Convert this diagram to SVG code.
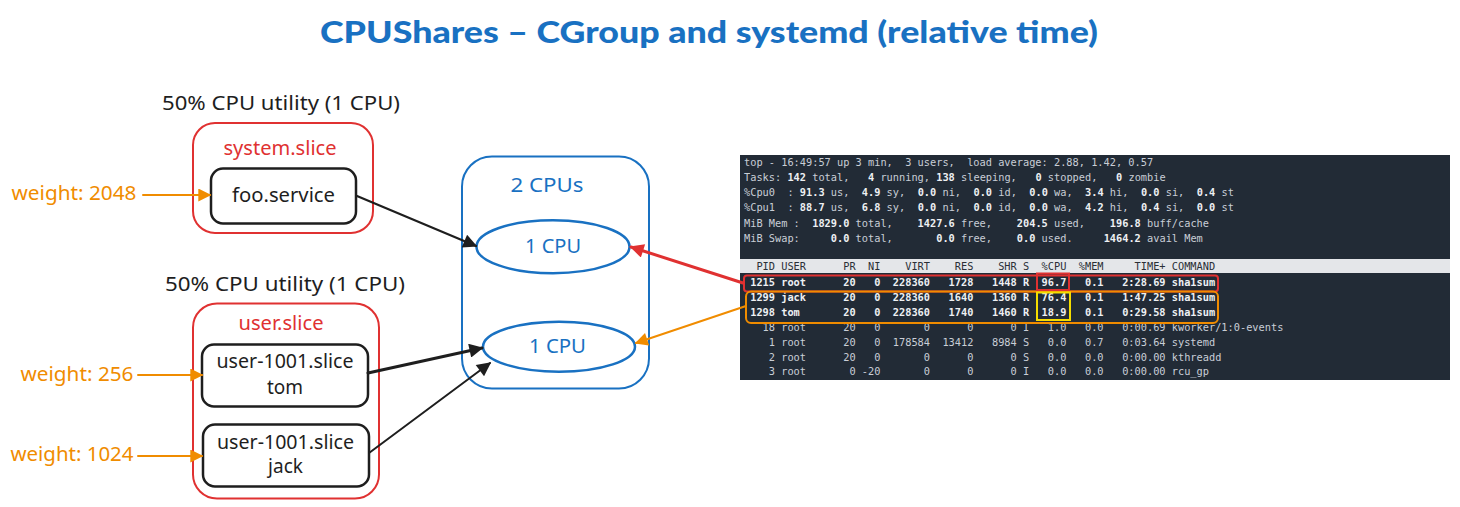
<svg xmlns="http://www.w3.org/2000/svg" width="1460" height="507" viewBox="0 0 1460 507">
<style>
.hand{font-family:"Noto Sans","Liberation Sans",sans-serif;font-size:19px;text-anchor:middle}
.blk{fill:#1e1e1e}
.red{fill:#e03131}
.org{fill:#f08c00}
.blu{fill:#1971c2}
.term text{font-family:"DejaVu Sans Mono","Liberation Mono",monospace;font-size:10.3px;fill:#c9ced6;white-space:pre}
.term .b{font-weight:bold;fill:#eef0f3}
.term .hdr{fill:#2a2f36}
.term .rowb{font-weight:bold;fill:#eef0f3}
.box{fill:none;stroke-width:2}
.conn{fill:none;stroke-linecap:round}
</style>
<defs>
<marker id="ahBk" viewBox="0 0 10 10" refX="9" refY="5" markerWidth="16" markerHeight="14" markerUnits="userSpaceOnUse" orient="auto"><path d="M0,0 L10,5 L0,10 z" fill="#1e1e1e"/></marker>
<marker id="ahR" viewBox="0 0 10 10" refX="9" refY="5" markerWidth="16" markerHeight="14" markerUnits="userSpaceOnUse" orient="auto"><path d="M0,0 L10,5 L0,10 z" fill="#e03131"/></marker>
<marker id="ahO" viewBox="0 0 10 10" refX="9" refY="5" markerWidth="15" markerHeight="13" markerUnits="userSpaceOnUse" orient="auto"><path d="M0,0 L10,5 L0,10 z" fill="#f08c00"/></marker>
</defs>

<text x="709" y="43" text-anchor="middle" textLength="778" lengthAdjust="spacingAndGlyphs" style="font-family:Lato,'Open Sans',sans-serif;font-weight:900;font-size:30px" class="blu">CPUShares – CGroup and systemd (relative time)</text>

<g id="label-system-util"><text class="hand blk" x="281" y="110" textLength="238" lengthAdjust="spacingAndGlyphs">50% CPU utility (1 CPU)</text></g>
<g id="system-slice">
<rect x="193" y="123" width="180" height="110" rx="22" class="box" stroke="#e03131"/>
<text class="hand red" x="280" y="154.5" textLength="113" lengthAdjust="spacingAndGlyphs">system.slice</text>
</g>
<g id="foo-service">
<rect x="211" y="168.5" width="145" height="55" rx="12" fill="none" stroke="#1e1e1e" stroke-width="2.5"/>
<text class="hand blk" x="283.5" y="202" textLength="103" lengthAdjust="spacingAndGlyphs">foo.service</text>
</g>
<g id="weight-2048"><text class="hand org" x="74" y="199.5" textLength="125" lengthAdjust="spacingAndGlyphs">weight: 2048</text></g>

<g id="label-user-util"><text class="hand blk" x="285" y="290.5" textLength="240" lengthAdjust="spacingAndGlyphs">50% CPU utility (1 CPU)</text></g>
<g id="user-slice">
<rect x="193" y="303.5" width="186" height="195" rx="24" class="box" stroke="#e03131"/>
<text class="hand red" x="281" y="329.5" textLength="85" lengthAdjust="spacingAndGlyphs">user.slice</text>
</g>
<g id="user-tom">
<rect x="202" y="344.5" width="166" height="62" rx="12" fill="none" stroke="#1e1e1e" stroke-width="2.5"/>
<text class="hand blk" x="285" y="367.5" textLength="137" lengthAdjust="spacingAndGlyphs">user-1001.slice</text>
<text class="hand blk" x="285" y="394">tom</text>
</g>
<g id="user-jack">
<rect x="203" y="424.5" width="166" height="62" rx="12" fill="none" stroke="#1e1e1e" stroke-width="2.5"/>
<text class="hand blk" x="285.5" y="448.5" textLength="137" lengthAdjust="spacingAndGlyphs">user-1001.slice</text>
<text class="hand blk" x="285.5" y="473">jack</text>
</g>
<g id="weight-256"><text class="hand org" x="77" y="381" textLength="113" lengthAdjust="spacingAndGlyphs">weight: 256</text></g>
<g id="weight-1024"><text class="hand org" x="72" y="460.5" textLength="123" lengthAdjust="spacingAndGlyphs">weight: 1024</text></g>

<g id="cpus">
<rect x="462" y="156.5" width="187" height="232" rx="30" class="box" stroke="#1971c2"/>
<text class="hand blu" x="547" y="192" textLength="73" lengthAdjust="spacingAndGlyphs">2 CPUs</text>
</g>
<g id="cpu1">
<ellipse cx="553" cy="246.7" rx="76.5" ry="26.5" fill="none" stroke="#1971c2" stroke-width="2.5"/>
<text class="hand blu" x="553" y="252.5" textLength="56" lengthAdjust="spacingAndGlyphs">1 CPU</text>
</g>
<g id="cpu2">
<ellipse cx="559" cy="346.7" rx="76" ry="25" fill="none" stroke="#1971c2" stroke-width="2.5"/>
<text class="hand blu" x="557.5" y="353" textLength="57" lengthAdjust="spacingAndGlyphs">1 CPU</text>
</g>

<g id="top-output" class="term">
<rect x="740" y="155" width="710" height="225" fill="#222b36"/>
<rect x="740" y="259" width="710" height="14" fill="#e4e6e9"/>
<text xml:space="preserve" x="744" y="165.5">top - 16:49:57 up 3 min,  3 users,  load average: 2.88, 1.42, 0.57</text>
<text xml:space="preserve" x="744" y="180.8">Tasks: <tspan class="b">142</tspan> total,   <tspan class="b">4</tspan> running, <tspan class="b">138</tspan> sleeping,   <tspan class="b">0</tspan> stopped,   <tspan class="b">0</tspan> zombie</text>
<text xml:space="preserve" x="744" y="196.1">%Cpu0  : <tspan class="b">91.3</tspan> us,  <tspan class="b">4.9</tspan> sy,  <tspan class="b">0.0</tspan> ni,  <tspan class="b">0.0</tspan> id,  <tspan class="b">0.0</tspan> wa,  <tspan class="b">3.4</tspan> hi,  <tspan class="b">0.0</tspan> si,  <tspan class="b">0.4</tspan> st</text>
<text xml:space="preserve" x="744" y="211.4">%Cpu1  : <tspan class="b">88.7</tspan> us,  <tspan class="b">6.8</tspan> sy,  <tspan class="b">0.0</tspan> ni,  <tspan class="b">0.0</tspan> id,  <tspan class="b">0.0</tspan> wa,  <tspan class="b">4.2</tspan> hi,  <tspan class="b">0.4</tspan> si,  <tspan class="b">0.0</tspan> st</text>
<text xml:space="preserve" x="744" y="226.7">MiB Mem :  <tspan class="b">1829.0</tspan> total,    <tspan class="b">1427.6</tspan> free,    <tspan class="b">204.5</tspan> used,    <tspan class="b">196.8</tspan> buff/cache</text>
<text xml:space="preserve" x="744" y="242">MiB Swap:     <tspan class="b">0.0</tspan> total,       <tspan class="b">0.0</tspan> free,    <tspan class="b">0.0</tspan> used.     <tspan class="b">1464.2</tspan> avail Mem</text>
<text xml:space="preserve" x="744" y="270.3" class="hdr">  PID USER      PR  NI    VIRT    RES    SHR S  %CPU  %MEM     TIME+ COMMAND</text>
<text xml:space="preserve" x="744" y="286" class="rowb"> 1215 root      20   0  228360   1728   1448 R  96.7   0.1   2:28.69 sha1sum</text>
<text xml:space="preserve" x="744" y="300.9" class="rowb"> 1299 jack      20   0  228360   1640   1360 R  76.4   0.1   1:47.25 sha1sum</text>
<text xml:space="preserve" x="744" y="315.8" class="rowb"> 1298 tom       20   0  228360   1740   1460 R  18.9   0.1   0:29.58 sha1sum</text>
<text xml:space="preserve" x="744" y="330.7">   18 root      20   0       0      0      0 I   1.0   0.0   0:00.69 kworker/1:0-events</text>
<text xml:space="preserve" x="744" y="345.6">    1 root      20   0  178584  13412   8984 S   0.0   0.7   0:03.64 systemd</text>
<text xml:space="preserve" x="744" y="360.5">    2 root      20   0       0      0      0 S   0.0   0.0   0:00.00 kthreadd</text>
<text xml:space="preserve" x="744" y="375.4">    3 root       0 -20       0      0      0 I   0.0   0.0   0:00.00 rcu_gp</text>
<rect x="744" y="275.5" width="474" height="16" rx="3" class="box" stroke="#e03131"/>
<rect x="746" y="291.5" width="472" height="31.5" rx="5" class="box" stroke="#f08c00"/>
<rect x="1037" y="273.5" width="32" height="16.5" class="box" stroke="#e03131"/>
<rect x="1037" y="292.5" width="33" height="27.5" class="box" stroke="#f5dd00"/>
</g>

<g id="connectors">
<line class="conn" x1="143" y1="195" x2="210" y2="195" stroke="#f08c00" stroke-width="2" marker-end="url(#ahO)"/>
<line class="conn" x1="138" y1="375" x2="202" y2="375" stroke="#f08c00" stroke-width="2" marker-end="url(#ahO)"/>
<line class="conn" x1="138" y1="456" x2="202" y2="456" stroke="#f08c00" stroke-width="2" marker-end="url(#ahO)"/>
<line class="conn" x1="357" y1="196" x2="476" y2="246" stroke="#1e1e1e" stroke-width="2.2" marker-end="url(#ahBk)"/>
<line class="conn" x1="368" y1="373" x2="482" y2="348" stroke="#1e1e1e" stroke-width="3" marker-end="url(#ahBk)"/>
<line class="conn" x1="369" y1="453" x2="490" y2="363" stroke="#1e1e1e" stroke-width="2" marker-end="url(#ahBk)"/>
<line class="conn" x1="743" y1="283" x2="631" y2="247" stroke="#e03131" stroke-width="3" marker-end="url(#ahR)"/>
<line class="conn" x1="746" y1="306" x2="636" y2="343" stroke="#f08c00" stroke-width="2" marker-end="url(#ahO)"/>
</g>
</svg>
